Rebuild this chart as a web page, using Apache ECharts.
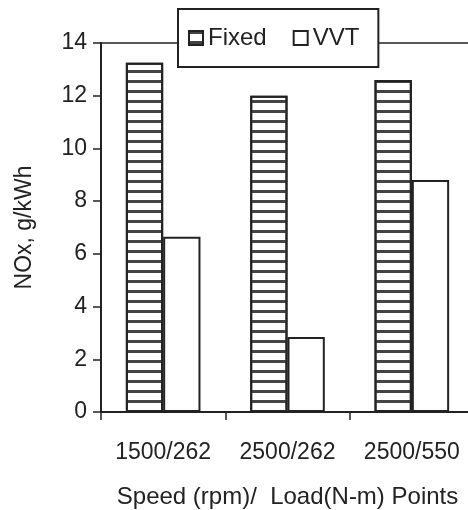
<!DOCTYPE html>
<html>
<head>
<meta charset="utf-8">
<script src="https://cdn.jsdelivr.net/npm/echarts@6/dist/echarts.min.js"></script>
<style>
  html, body { margin: 0; padding: 0; background: #fff; }
  #nox-chart { width: 468px; height: 510px; }
</style>
</head>
<body>
<div id="nox-chart"></div>
<script>
// operating points and NOx values
const points = ['1500/262', '2500/262', '2500/550'];
const fixedNox = [13.25, 12.0, 12.6];
const vvtNox = [6.65, 2.85, 8.8];
const yTicks = [0, 2, 4, 6, 8, 10, 12, 14];

const font = 'Liberation Sans, Arial, sans-serif';
const ink = '#222';

let chart = echarts.init(document.getElementById('nox-chart'));
chart.setOption({
  animation: false,
  backgroundColor: '#fff',
  textStyle: { fontFamily: font, color: ink },
  grid: {
    left: 101,
    width: 373,
    top: 43,
    bottom: 98,
    outerBoundsMode: 'none',
    containLabel: false,
    show: true,
    borderColor: ink,
    borderWidth: 1.5
  },
  legend: {
    left: 178,
    top: 9,
    padding: [17, 19, 17, 10],
    backgroundColor: '#fff',
    borderColor: ink,
    borderWidth: 2,
    icon: 'rect',
    itemWidth: 14,
    itemHeight: 14,
    itemGap: 26,
    textStyle: { fontFamily: font, fontSize: 24, color: ink },
    data: ['Fixed', 'VVT']
  },
  xAxis: {
    type: 'category',
    data: points,
    name: 'Speed (rpm)/  Load(N-m) Points',
    nameLocation: 'middle',
    nameGap: 73,
    nameTextStyle: { fontSize: 24, color: ink },
    axisLine: { lineStyle: { color: ink, width: 2 } },
    axisTick: { show: true, length: 8, interval: 0, lineStyle: { color: ink, width: 1.5 } },
    axisLabel: { interval: 0, hideOverlap: false, margin: 29, fontSize: 23, color: ink }
  },
  yAxis: {
    type: 'value',
    min: yTicks[0],
    max: yTicks[yTicks.length - 1],
    interval: 2,
    name: 'NOx, g/kWh',
    nameLocation: 'middle',
    nameGap: 65,
    nameTextStyle: { fontSize: 23, color: ink },
    splitLine: { show: false },
    axisLine: { show: true, lineStyle: { color: ink, width: 2 } },
    axisTick: { show: true, length: 8, lineStyle: { color: ink, width: 1.5 } },
    axisLabel: { margin: 14, fontSize: 23, color: ink }
  },
  series: [
    {
      name: 'Fixed',
      type: 'bar',
      data: fixedNox,
      barGap: '0%',
      barCategoryGap: '40%',
      itemStyle: {
        color: '#fff',
        borderColor: ink,
        borderWidth: 2,
        decal: {
          symbol: 'rect',
          symbolSize: 1,
          color: '#444',
          dashArrayX: [1, 0],
          dashArrayY: [3, 6.7],
          rotation: 0
        }
      }
    },
    {
      name: 'VVT',
      type: 'bar',
      data: vvtNox,
      itemStyle: {
        color: '#fff',
        borderColor: ink,
        borderWidth: 2
      }
    }
  ]
});
</script>
</body>
</html>
